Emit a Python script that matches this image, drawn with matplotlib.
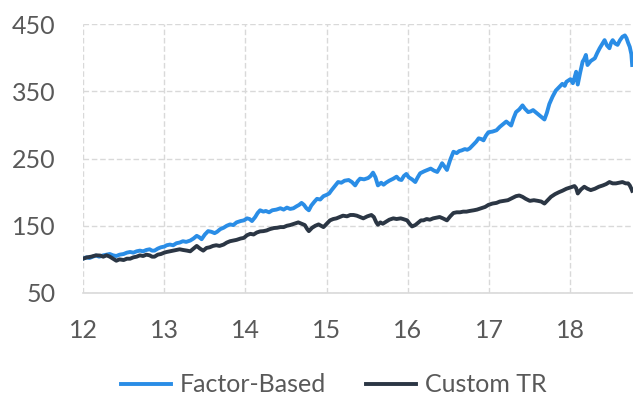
import matplotlib
matplotlib.use("Agg")
import matplotlib.pyplot as plt

fb_years = [12.00,12.04,12.08,12.12,12.16,12.20,12.25,12.29,12.33,12.37,12.41,12.45,12.50,12.54,12.58,12.62,12.66,12.70,12.74,12.78,12.82,12.85,12.88,12.92,12.96,13.00,13.03,13.07,13.11,13.15,13.19,13.23,13.27,13.32,13.36,13.40,13.43,13.46,13.50,13.54,13.58,13.62,13.65,13.69,13.73,13.77,13.81,13.85,13.89,13.94,13.98,14.02,14.05,14.08,14.12,14.15,14.18,14.22,14.25,14.29,14.33,14.38,14.43,14.47,14.51,14.55,14.59,14.63,14.66,14.69,14.72,14.75,14.78,14.81,14.85,14.88,14.92,14.96,15.00,15.03,15.06,15.10,15.14,15.18,15.22,15.27,15.31,15.35,15.38,15.41,15.46,15.51,15.54,15.57,15.60,15.63,15.67,15.70,15.73,15.77,15.82,15.86,15.89,15.92,15.95,15.98,16.01,16.05,16.09,16.12,16.15,16.20,16.24,16.28,16.32,16.36,16.39,16.42,16.45,16.48,16.52,16.56,16.60,16.63,16.66,16.70,16.73,16.76,16.80,16.84,16.87,16.90,16.93,16.96,16.99,17.04,17.09,17.13,17.17,17.21,17.24,17.27,17.30,17.33,17.37,17.41,17.44,17.48,17.51,17.54,17.58,17.62,17.65,17.68,17.71,17.74,17.78,17.82,17.86,17.90,17.93,17.95,18.00,18.03,18.05,18.07,18.09,18.12,18.15,18.17,18.19,18.21,18.25,18.30,18.33,18.36,18.39,18.42,18.45,18.48,18.50,18.52,18.55,18.58,18.61,18.64,18.67,18.69,18.71,18.73,18.75,18.76]
fb_values = [101,103,102,104,105.7,104,106,107,108,106,105,107,108,110,111,110,112,113,112,114,115,113,113,116,118,119,121,122,121,124,125,127,126,128,131,135,133,130,137,142,141,139,141,145,147,150,152,151,155,157,158,161,160,157,163,169,173,171,172,170,173,174,176,174,177,175,176,179,181,184,181,176,173,180,186,190,189,194,196,198,203,209,215,214,217,218,215,210,216,220,219,221,224,229,222,210,214,211,214,217,220,223,219,218,224,227,222,219,215,222,228,231,233,235,232,230,236,243,238,233,248,260,258,261,262,264,263,265,270,275,280,279,277,284,289,290,292,297,301,305,302,299,310,319,323,329,324,319,320,322,318,314,311,308,318,331,342,351,356,361,358,364,368,362,370,379,360,378,394,398,404,389,395,399,407,414,420,426,418,414,422,426,421,419,426,431,433,429,422,416,405,389]

tr_years = [12.00,12.05,12.10,12.16,12.21,12.25,12.29,12.33,12.37,12.41,12.45,12.50,12.54,12.58,12.62,12.66,12.70,12.74,12.78,12.82,12.85,12.88,12.92,12.96,13.00,13.03,13.07,13.11,13.15,13.19,13.23,13.28,13.32,13.36,13.40,13.44,13.48,13.52,13.56,13.60,13.64,13.68,13.73,13.77,13.81,13.85,13.89,13.94,13.98,14.02,14.06,14.10,14.14,14.18,14.22,14.26,14.30,14.35,14.39,14.43,14.47,14.51,14.55,14.60,14.65,14.69,14.73,14.76,14.78,14.82,14.86,14.90,14.93,14.96,15.00,15.04,15.08,15.12,15.16,15.20,15.25,15.29,15.33,15.37,15.41,15.45,15.50,15.55,15.58,15.61,15.63,15.66,15.69,15.73,15.77,15.82,15.86,15.91,15.94,15.99,16.02,16.05,16.09,16.13,16.16,16.19,16.23,16.27,16.31,16.35,16.39,16.43,16.48,16.52,16.56,16.60,16.64,16.68,16.72,16.76,16.81,16.85,16.90,16.95,16.99,17.04,17.09,17.13,17.18,17.23,17.28,17.33,17.37,17.41,17.45,17.50,17.55,17.60,17.64,17.68,17.72,17.76,17.81,17.86,17.90,17.95,18.00,18.05,18.07,18.09,18.13,18.17,18.21,18.25,18.30,18.35,18.40,18.44,18.48,18.52,18.56,18.60,18.64,18.68,18.71,18.73,18.75,18.76]
tr_values = [101,103,104,106,105.7,104,106,104,101,98,100,99,101,101,103,104,106,105,107,106,104,104,107,108,110,111,112,113,114,115,114,113,112,116,120,116,113,117,118,120,121,120,122,125,127,128,129,131,132,136,138,137,140,141.6,142,143,145,146.6,147,148,148,150,151,153,155,153,151,145,142,147,150,152,150,148,153,158,160,161,163,165,164,166,166,165,163,161,164,166,163,155,151.5,155,153,156,159,161,160,161,160,158,153,149,151,155,158,158,160,159,161,162,163,161,158,164,169,170,170,171,171,172,173,174,176,178,181,183,184,186,187,188,191,194,195,193,190,187,188,187,186,183,188,193,197,200,202,205,207,209,206,198,204,208,205,203,205,208,210,212,215,213,213,214,215,213,213,210,205,202]

series_labels = ["Factor-Based", "Custom TR"]
x_ticks = [12, 13, 14, 15, 16, 17, 18]
y_ticks = [50, 150, 250, 350, 450]

plt.rcParams['font.family'] = ['Lato', 'DejaVu Sans']
fig = plt.figure(figsize=(6.33, 4.01), dpi=100)
ax = fig.add_axes([83/633, 1-293/401, 1-83/633, (293-24)/401])

ax.plot(fb_years, fb_values, color="#2A8DE6", lw=2.8, label=series_labels[0], solid_joinstyle='round', zorder=3)
ax.plot(tr_years, tr_values, color="#2B3644", lw=2.8, label=series_labels[1], solid_joinstyle='round', zorder=3)

ax.set_xlim(12, 18.77)
ax.set_ylim(50, 450)
ax.set_xticks(x_ticks)
ax.set_xticklabels([str(t) for t in x_ticks])
ax.set_yticks(y_ticks)
ax.grid(True, color="#D9D9D9", linestyle=(0, (4, 2)), linewidth=1.0)
ax.set_axisbelow(True)
for s in ["top", "right", "left"]:
    ax.spines[s].set_visible(False)
ax.spines["bottom"].set_color("#D9D9D9")
ax.spines["bottom"].set_linewidth(1.2)
ax.tick_params(axis='both', length=0, labelsize=18, labelcolor="#595959")
ax.tick_params(axis='y', pad=20)
ax.tick_params(axis='x', pad=19)

fig.legend(loc='center', bbox_to_anchor=(334/633, 16/401), ncol=2, frameon=False,
           fontsize=18, labelcolor="#595959", handlelength=2.0, handletextpad=0.35,
           columnspacing=1.6)

fig.savefig("out.png", dpi=100)
